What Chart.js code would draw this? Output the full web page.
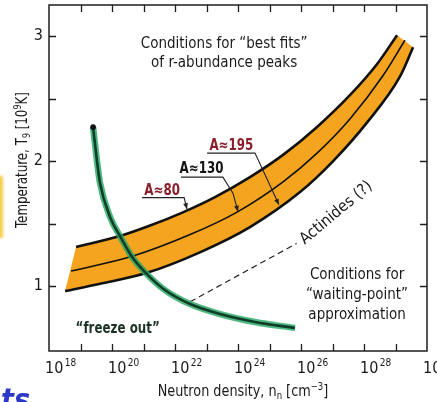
<!DOCTYPE html>
<html>
<head>
<meta charset="utf-8">
<script src="https://cdn.jsdelivr.net/npm/chart.js@4.4.1/dist/chart.umd.min.js"></script>
<style>
  html, body { margin: 0; padding: 0; background: #ffffff; }
  #wrap { width: 437px; height: 402px; position: relative; }
  canvas { display: block; }
</style>
</head>
<body>
<div id="wrap"><canvas id="c" width="437" height="402"></canvas></div>
<script>
// x values are log10 of the neutron density n_n [cm^-3]; y values are T9 [10^9 K]

// "best fit" band: upper edge (A≈80), centre line (A≈130), lower edge (A≈195)
const upperLogN  = [18.86, 20.25, 21.21, 22.25, 23.27, 24.38, 25.43, 26.51, 27.56, 28.41, 29.05];
const upperT9    = [1.312, 1.400, 1.484, 1.590, 1.712, 1.872, 2.050, 2.274, 2.530, 2.776, 3.008];
const middleLogN = [18.70, 20.64, 22.48, 23.97, 25.43, 26.51, 27.56, 28.60, 29.30];
const middleT9   = [1.120, 1.238, 1.412, 1.592, 1.834, 2.064, 2.340, 2.684, 2.968];
const lowerLogN  = [18.51, 19.62, 21.11, 22.79, 24.38, 25.97, 27.02, 28.10, 29.14, 29.56];
const lowerT9    = [0.960, 1.018, 1.106, 1.270, 1.472, 1.752, 2.000, 2.310, 2.676, 2.912];

// freeze-out curve
const freezeLogN = [19.40, 19.52, 19.62, 19.94, 20.29, 20.64, 21.11, 21.68, 22.48, 23.43, 24.54, 25.81];
const freezeT9   = [2.272, 2.008, 1.824, 1.552, 1.384, 1.232, 1.095, 0.968, 0.856, 0.776, 0.712, 0.664];

// dashed actinide track
const actinideLogN = [22.48, 25.86];
const actinideT9   = [0.874, 1.341];

// axis ticks
const xLabelExponents = [18, 20, 22, 24, 26, 28, 30];
const xTickMarks = [19, 20, 21, 22, 23, 24, 25, 26, 27, 28, 29];
const yLabelValues = [1, 2, 3];
const yTickMarks = [1, 1.5, 2, 2.5, 3];

const FONT = '"DejaVu Sans Condensed", "Liberation Sans Narrow", "DejaVu Sans", sans-serif';

const pts = (xs, ys) => xs.map((x, i) => ({ x, y: ys[i] }));
const upperPts = pts(upperLogN, upperT9);
const lowerPts = pts(lowerLogN, lowerT9);
// slanted end pieces of the band: end of the upper edge joined to the end of the lower edge
const leftEnd  = [lowerPts[0], upperPts[0], upperPts[1]];
const rightEnd = [upperPts[upperPts.length - 2], upperPts[upperPts.length - 1], lowerPts[lowerPts.length - 1]];

function richText(ctx, parts, x, y, size, weight, color, opts) {
  opts = opts || {};
  const sx = opts.sx || 1, rot = opts.rot || 0, align = opts.align || 'center';
  ctx.save();
  ctx.translate(x, y);
  if (rot) ctx.rotate(rot);
  ctx.scale(sx, 1);
  ctx.fillStyle = color;
  ctx.textBaseline = 'alphabetic';
  ctx.textAlign = 'left';
  const fonts = parts.map(([t, k]) => `${weight} ${k ? Math.round(size * (opts.small || 0.66)) : size}px ${FONT}`);
  const widths = parts.map(([t], i) => { ctx.font = fonts[i]; return ctx.measureText(t).width; });
  const total = widths.reduce((a, b) => a + b, 0);
  let cx = align === 'center' ? -total / 2 : 0;
  parts.forEach(([t, k], i) => {
    ctx.font = fonts[i];
    const dy = k === 1 ? -size * (opts.rise || 0.42) : (k === -1 ? size * 0.22 : 0);
    ctx.fillText(t, cx + (k ? (opts.gap || 0) : 0), dy);
    cx += widths[i] + (k ? (opts.gap || 0) : 0);
  });
  ctx.restore();
}

function arrowHead(ctx, fx, fy, tx, ty) {
  const a = Math.atan2(ty - fy, tx - fx);
  const L = 6, W = 2.4;
  ctx.beginPath();
  ctx.moveTo(tx, ty);
  ctx.lineTo(tx - L * Math.cos(a) + W * Math.sin(a), ty - L * Math.sin(a) - W * Math.cos(a));
  ctx.lineTo(tx - L * Math.cos(a) - W * Math.sin(a), ty - L * Math.sin(a) + W * Math.cos(a));
  ctx.closePath();
  ctx.fill();
}

const decor = {
  id: 'decor',
  beforeDraw(chart) {
    const ctx = chart.ctx;
    ctx.save();
    // yellow strip at the left edge
    ctx.fillStyle = 'rgba(245, 196, 40, 0.85)';
    ctx.filter = 'blur(1.5px)';
    ctx.fillRect(-3, 176, 6, 62);
    ctx.filter = 'none';
    ctx.restore();
  },
  afterDatasetsDraw(chart) {
    const ctx = chart.ctx;
    const xs = chart.scales.x, ys = chart.scales.y;
    const X = v => xs.getPixelForValue(v), Y = v => ys.getPixelForValue(v);
    const { left, right, top, bottom } = chart.chartArea;

    // frame and inward ticks
    ctx.save();
    ctx.strokeStyle = '#1e1e1e';
    ctx.lineWidth = 1.5;
    ctx.strokeRect(left, top, right - left, bottom - top);
    ctx.beginPath();
    const TL = 7;
    xTickMarks.forEach(v => {
      const px = Math.round(X(v)) + 0.5;
      ctx.moveTo(px, bottom); ctx.lineTo(px, bottom - TL);
      ctx.moveTo(px, top); ctx.lineTo(px, top + TL);
    });
    yTickMarks.forEach(v => {
      const py = Math.round(Y(v)) + 0.5;
      ctx.moveTo(left, py); ctx.lineTo(left + TL, py);
      ctx.moveTo(right, py); ctx.lineTo(right - TL, py);
    });
    ctx.lineWidth = 1.3;
    ctx.stroke();
    ctx.restore();

    // decade labels under the x axis
    xLabelExponents.forEach(e => {
      richText(ctx, [['10', 0], [String(e), 1]], X(e) - 4, bottom + 22, 16, 'normal', '#1a1a1a',
        { align: 'left', small: 0.64, rise: 0.45, gap: 1.5 });
    });

    // labels of the band edges with leaders and arrows
    ctx.save();
    ctx.lineWidth = 1.1;
    ctx.strokeStyle = '#222';
    ctx.fillStyle = '#222';
    const labels = [
      { text: 'A≈80',  color: '#8a1f2b', at: [21.59, 1.728], ul: [20.95, 22.29, 1.708], leader: [[22.29, 1.708], [22.38, 1.615]] },
      { text: 'A≈130', color: '#141414', at: [22.84, 1.904], ul: [22.19, 23.52, 1.872], leader: [[23.52, 1.872], [23.84, 1.744], [24.0, 1.595]] },
      { text: 'A≈195', color: '#8a1f2b', at: [23.79, 2.088], ul: [23.02, 24.54, 2.064], leader: [[24.54, 2.064], [25.30, 1.650]] }
    ];
    labels.forEach(l => {
      richText(ctx, [[l.text, 0]], X(l.at[0]), Y(l.at[1]), 15, 'bold', l.color, { sx: 0.88 });
      ctx.beginPath();
      ctx.moveTo(X(l.ul[0]), Y(l.ul[2]));
      ctx.lineTo(X(l.ul[1]), Y(l.ul[2]));
      l.leader.forEach((p, i) => { if (i > 0) ctx.lineTo(X(p[0]), Y(p[1])); });
      ctx.stroke();
      const n = l.leader.length;
      arrowHead(ctx, X(l.leader[n - 2][0]), Y(l.leader[n - 2][1]), X(l.leader[n - 1][0]), Y(l.leader[n - 1][1]));
    });
    ctx.restore();

    // text inside the plot
    richText(ctx, [['Conditions for “best fits”', 0]], X(23.56), Y(2.904), 15, 'normal', '#1a1a1a');
    richText(ctx, [['of r-abundance peaks', 0]], X(23.56), Y(2.752), 15, 'normal', '#1a1a1a');
    richText(ctx, [['Conditions for', 0]], X(27.78), Y(1.056), 15, 'normal', '#1a1a1a');
    richText(ctx, [['“waiting-point”', 0]], X(27.78), Y(0.896), 15, 'normal', '#1a1a1a');
    richText(ctx, [['approximation', 0]], X(27.78), Y(0.736), 15, 'normal', '#1a1a1a');
    richText(ctx, [['“freeze out”', 0]], X(20.18), Y(0.624), 15, 'bold', '#1b3324', { sx: 0.88 });
    richText(ctx, [['Actinides (?)', 0]], X(26.12), Y(1.33), 16, 'normal', '#1a1a1a', { rot: -40 * Math.PI / 180, align: 'left' });
  },
  afterDraw(chart) {
    const ctx = chart.ctx;
    const { left, right, top, bottom } = chart.chartArea;
    // axis titles
    richText(ctx, [['Neutron density, n', 0], ['n', -1], [' [cm', 0], ['−3', 1], [']', 0]],
      (left + right) / 2 + 5, 396, 15, 'normal', '#1a1a1a', { sx: 0.95 });
    richText(ctx, [['Temperature, T', 0], ['9', -1], [' [10', 0], ['9', 1], ['K]', 0]],
      27, (top + bottom) / 2 - 18, 15, 'normal', '#1a1a1a', { sx: 0.88, rot: -Math.PI / 2 });
    // handwritten fragment at the lower left edge
    ctx.save();
    ctx.fillStyle = '#2a37c8';
    ctx.font = `italic bold 30px ${FONT}`;
    ctx.fillText('ts', 1, 410);
    ctx.restore();
  }
};

const green = pts(freezeLogN, freezeT9);
const BAND = '#f4a41f';

new Chart(document.getElementById('c'), {
  type: 'line',
  data: {
    datasets: [
      { // freeze-out curve, dark core
        data: green, borderColor: '#0f3d27', borderWidth: 2.6, fill: false,
        cubicInterpolationMode: 'monotone',
        pointRadius: ctx => ctx.dataIndex === 0 ? 2.8 : 0,
        pointBackgroundColor: '#111', pointBorderWidth: 0
      },
      { // freeze-out curve, light green rim
        data: green, borderColor: 'rgba(40, 168, 100, 0.82)', borderWidth: 6.5, fill: false,
        cubicInterpolationMode: 'monotone', pointRadius: 0
      },
      { // upper edge, filled down to the lower edge
        data: upperPts, borderColor: '#111', borderWidth: 2.6, fill: 4, backgroundColor: BAND,
        cubicInterpolationMode: 'monotone', pointRadius: 0
      },
      { // centre line
        data: pts(middleLogN, middleT9), borderColor: '#111', borderWidth: 1.6, fill: false,
        cubicInterpolationMode: 'monotone', pointRadius: 0
      },
      { // lower edge
        data: lowerPts, borderColor: '#111', borderWidth: 2.6, fill: false,
        cubicInterpolationMode: 'monotone', pointRadius: 0
      },
      { // left end of the band
        data: leftEnd, borderWidth: 0, borderColor: 'rgba(0,0,0,0)', backgroundColor: BAND,
        fill: 4, tension: 0, pointRadius: 0
      },
      { // right end of the band
        data: rightEnd, borderWidth: 0, borderColor: 'rgba(0,0,0,0)', backgroundColor: BAND,
        fill: 4, tension: 0, pointRadius: 0
      },
      { // actinides
        data: pts(actinideLogN, actinideT9), borderColor: '#222', borderWidth: 1.2,
        borderDash: [6, 4], fill: false, pointRadius: 0
      }
    ]
  },
  options: {
    responsive: false,
    animation: false,
    devicePixelRatio: 1,
    layout: { padding: { top: 5, right: 10, left: 0, bottom: 0 } },
    plugins: {
      legend: { display: false },
      tooltip: { enabled: false },
      filler: { drawTime: 'beforeDatasetsDraw' }
    },
    scales: {
      x: {
        type: 'linear', min: 18, max: 30,
        grid: { display: false, drawTicks: false },
        border: { display: false },
        ticks: { display: false, stepSize: 1 },
        afterFit: s => { s.height = 51; s.paddingLeft = 0; s.paddingRight = 0; }
      },
      y: {
        type: 'linear', min: 0.48, max: 3.25,
        grid: { display: false, drawTicks: false },
        border: { display: false },
        ticks: {
          stepSize: 0.5, autoSkip: false, padding: 6,
          color: '#1a1a1a', font: { family: FONT, size: 16 },
          callback: v => yLabelValues.includes(v) ? String(v) : ''
        },
        afterFit: s => { s.width = 49; s.paddingTop = 0; s.paddingBottom = 0; }
      }
    }
  },
  plugins: [decor]
});
</script>
</body>
</html>
